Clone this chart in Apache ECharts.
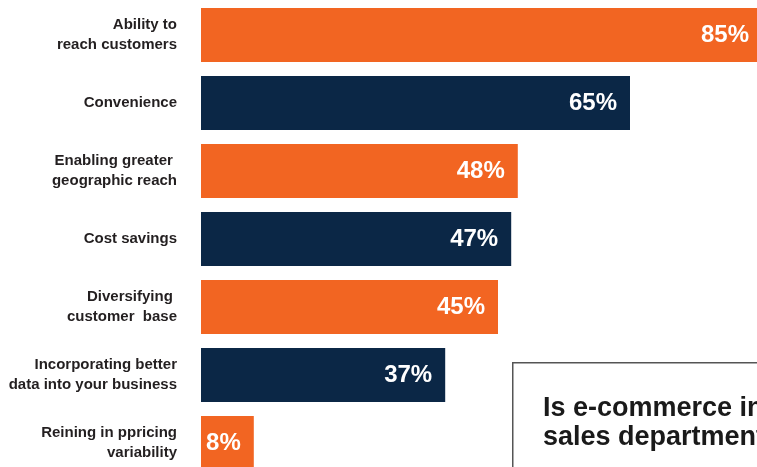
<!DOCTYPE html>
<html>
<head>
<meta charset="utf-8">
<script src="https://cdn.jsdelivr.net/npm/echarts@6/dist/echarts.min.js"></script>
<style>
html,body{margin:0;padding:0;background:#fff;}
#chart{width:757px;height:467px;}
</style>
</head>
<body>
<div id="chart"></div>
<script>
var categories = [
  "Ability to\nreach customers",
  "Convenience",
  "Enabling greater \ngeographic reach",
  "Cost savings",
  "Diversifying \ncustomer  base",
  "Incorporating better\ndata into your business",
  "Reining in ppricing\nvariability"
];
var values = [85, 65, 48, 47, 45, 37, 8];
var barColors = ["#F26522", "#0B2746", "#F26522", "#0B2746", "#F26522", "#0B2746", "#F26522"];
var boxTitle = "Is e-commerce integrated into your\nsales department?";

var chart = echarts.init(document.getElementById('chart'), null, {renderer: 'canvas'});
var font = "'Liberation Sans', Arial, sans-serif";
chart.setOption({
  animation: false,
  backgroundColor: '#ffffff',
  grid: {left: 201, top: 1, width: 660, height: 476, containLabel: false, outerBoundsMode: 'none'},
  xAxis: {type: 'value', min: 0, max: 100, show: false},
  yAxis: {
    type: 'category',
    data: categories,
    inverse: true,
    axisLine: {show: false},
    axisTick: {show: false},
    axisLabel: {
      margin: 24,
      color: '#231f20',
      fontFamily: font,
      fontWeight: 'bold',
      fontSize: 15,
      lineHeight: 20,
      align: 'right'
    }
  },
  series: [{
    type: 'bar',
    barWidth: 54,
    data: values.map(function (v, i) {
      return {value: v, itemStyle: {color: barColors[i]}};
    }),
    label: {
      show: true,
      position: 'insideRight',
      distance: 13,
      formatter: '{c}%',
      color: '#ffffff',
      fontFamily: font,
      fontWeight: 'bold',
      fontSize: 24
    }
  }],
  graphic: [{
    type: 'rect',
    left: 512,
    top: 362,
    shape: {width: 300, height: 150},
    style: {fill: '#ffffff', stroke: '#555555', lineWidth: 1.5},
    z: 100
  }, {
    type: 'text',
    left: 543,
    top: 394,
    style: {
      text: boxTitle,
      fill: '#1a1a1a',
      font: 'bold 27px ' + font,
      lineHeight: 29
    },
    z: 101
  }]
});
</script>
</body>
</html>
